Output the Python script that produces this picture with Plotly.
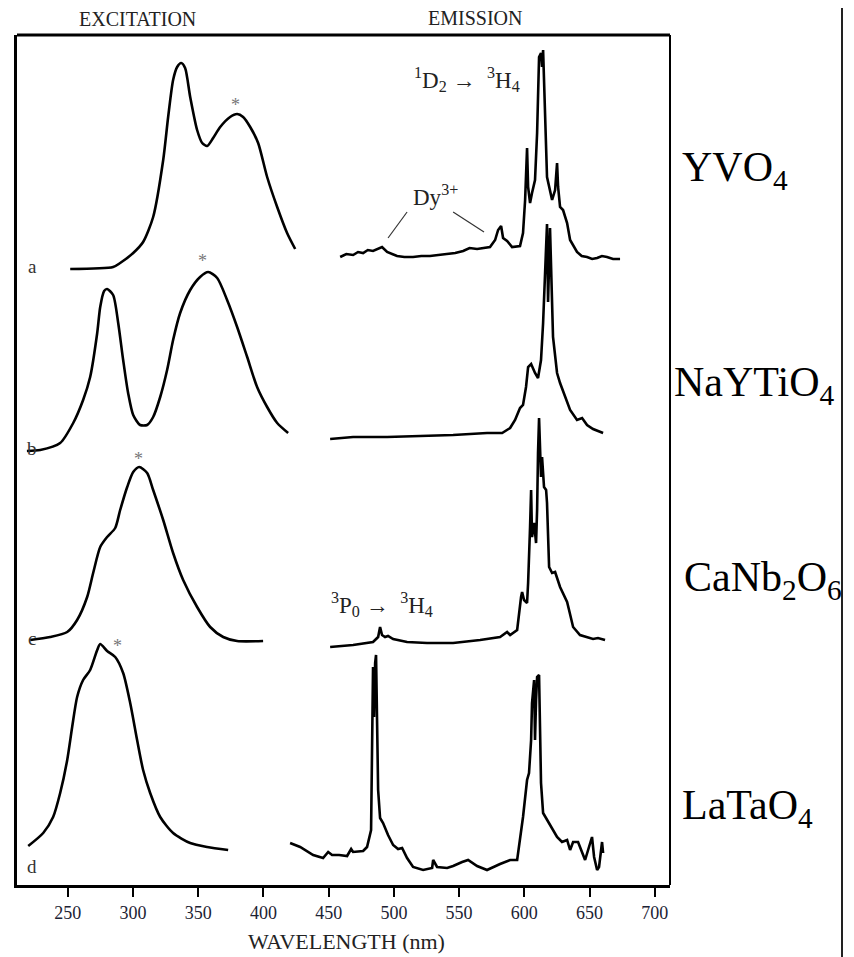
import plotly.graph_objects as go

# ---------------- data (wavelength nm, relative intensity a.u.) ----------------
PANELS = ["a", "b", "c", "d"]
HOSTS = ["YVO<sub>4</sub>", "NaYTiO<sub>4</sub>", "CaNb<sub>2</sub>O<sub>6</sub>", "LaTaO<sub>4</sub>"]
OFFSETS = [615, 433, 243, 15]   # vertical stacking offset of each panel

EXC_A_WL = [251.8, 284.7, 290.1, 300.1, 307.7, 315.4, 323.1, 326.9, 330.7, 333.8, 336.9, 339.9,
            343.8, 349.1, 353.0, 356.8, 361.4, 366.8, 374.4, 379.8, 384.4, 389.8, 395.9, 402.8,
            410.5, 418.1, 424.3]
EXC_A_I = [1, 3, 7, 17, 28, 53, 110, 153, 190, 203, 207, 202, 173, 140, 127, 124, 132, 143, 153,
           156, 153, 143, 127, 93, 63, 37, 21]

EXC_B_WL = [218.6, 228.8, 244.1, 254.1, 261.7, 267.1, 272.5, 274.8, 277.8, 280.1, 284.7, 288.6,
            292.4, 296.2, 300.1, 305.4, 310.8, 315.4, 320.8, 326.1, 330.7, 336.1, 343.8, 351.4,
            357.6, 364.5, 372.1, 379.8, 387.5, 395.1, 402.8, 410.5, 418.9]
EXC_B_I = [1, 2, 9, 29, 52, 75, 119, 145, 161, 163, 157, 129, 92, 59, 37, 27, 27, 35, 55, 82, 112,
           139, 162, 175, 180, 174, 152, 125, 95, 65, 45, 29, 19]

EXC_C_WL = [221.1, 236.4, 249.5, 257.1, 264.8, 269.4, 274.8, 280.1, 286.3, 290.1, 295.5, 300.1,
            304.7, 310.8, 315.4, 323.1, 330.7, 338.4, 349.1, 359.1, 369.1, 379.8, 399.7]
EXC_C_I = [2, 5, 10, 22, 45, 69, 95, 105, 114, 132, 155, 170, 175, 169, 152, 122, 89, 62, 35, 15,
           5, 1, 1]

EXC_D_WL = [219.6, 231.1, 238.7, 244.1, 249.5, 253.3, 257.1, 261.7, 267.1, 272.5, 274.8, 280.1,
            286.3, 292.4, 297.8, 303.1, 307.7, 313.1, 320.8, 330.7, 343.8, 356.8, 372.9]
EXC_D_I = [24, 37, 53, 77, 110, 143, 173, 190, 200, 220, 226, 219, 213, 197, 167, 130, 100, 77, 53,
           37, 27, 23, 20]

EM_A_WL = [458.8, 463.5, 468.7, 472.5, 476.4, 480.0, 484.0, 487.5, 490.9, 494.8, 502.4, 508.0,
           514.7, 521.0, 527.7, 534.0, 540.8, 547.0, 553.1, 558.0, 563.8, 569.0, 573.7, 577.6,
           579.9, 582.2, 583.7, 586.8, 590.6, 596.7, 599.0, 600.6, 602.1, 602.9, 604.4, 605.9,
           608.2, 609.8, 611.3, 612.8, 613.6, 614.4, 615.9, 617.4, 621.3, 623.6, 625.1, 625.9,
           627.4, 629.7, 632.8, 635.1, 640.4, 644.0, 648.1, 652.0, 655.8, 659.5, 663.4, 668.0, 673.4]
EM_A_I = [13, 16, 15, 18, 17, 20, 19, 21, 23, 18, 14, 13, 13, 14, 14, 15, 16, 17, 19, 22, 21, 22,
          23, 30, 40, 44, 32, 29, 23, 24, 37, 70, 122, 83, 67, 77, 90, 137, 213, 217, 203, 220, 153,
          93, 70, 80, 107, 83, 63, 60, 47, 30, 18, 14, 13, 11, 12, 14, 13, 11, 11]

EM_B_WL = [451.1, 468.7, 494.8, 520.1, 545.4, 571.4, 583.0, 589.1, 592.9, 596.7, 599.0, 601.3,
           602.9, 605.2, 608.2, 610.5, 612.8, 614.4, 615.9, 617.4, 618.2, 619.7, 622.0, 625.1,
           627.4, 631.2, 635.1, 640.4, 644.3, 648.1, 652.7, 660.4]
EM_B_I = [13, 15, 15, 16, 17, 19, 19, 24, 32, 44, 47, 65, 85, 88, 79, 74, 92, 129, 172, 228, 150,
          224, 115, 79, 69, 55, 42, 32, 34, 27, 23, 19]

EM_C_WL = [451.1, 468.7, 484.0, 487.9, 489.4, 490.9, 493.2, 495.5, 499.4, 510.1, 525.4, 545.4,
           566.1, 581.4, 586.8, 589.1, 594.5, 596.0, 597.5, 598.3, 599.8, 602.1, 602.9, 604.4,
           605.2, 605.9, 607.5, 609.0, 609.8, 610.5, 611.3, 612.8, 613.6, 615.1, 616.7, 617.4,
           619.0, 621.3, 623.6, 627.4, 632.8, 634.3, 637.4, 642.7, 652.7, 656.5, 661.9]
EM_C_I = [-5, -3, 0, 5, 15, 7, 5, 6, 3, 0, -1, -1, 2, 5, 10, 7, 12, 32, 45, 50, 42, 39, 59, 115,
          152, 105, 119, 99, 132, 189, 224, 165, 185, 155, 152, 139, 75, 69, 70, 55, 40, 32, 15, 7,
          3, 4, 2]

EM_D_WL = [420.4, 428.1, 438.1, 445.7, 449.6, 452.6, 458.0, 464.1, 467.2, 468.7, 476.4, 479.4,
           482.5, 483.3, 484.0, 484.8, 485.6, 486.3, 487.1, 487.9, 489.4, 491.7, 495.5, 499.4,
           503.2, 506.3, 510.1, 514.7, 522.4, 529.3, 530.1, 533.1, 540.8, 545.4, 552.3, 556.9,
           563.8, 571.4, 581.4, 589.1, 594.5, 596.7, 599.0, 602.1, 603.6, 605.2, 605.9, 607.5,
           608.2, 609.0, 609.8, 611.3, 612.1, 612.8, 614.4, 617.4, 621.3, 625.1, 628.9, 632.8,
           635.1, 637.4, 641.2, 644.3, 646.6, 648.9, 651.9, 653.5, 655.8, 657.3, 659.6, 660.4]
EM_D_I = [27, 23, 15, 12, 18, 15, 15, 14, 21, 18, 19, 23, 40, 130, 203, 153, 207, 215, 163, 80, 52,
          47, 35, 25, 21, 22, 12, 3, 0, 2, 10, 3, 2, 4, 8, 10, 4, 0, 6, 10, 10, 30, 53, 90, 97, 130,
          167, 190, 130, 170, 193, 195, 147, 87, 57, 50, 42, 33, 28, 30, 20, 28, 28, 17, 10, 20, 33,
          13, 0, 3, 28, 17]

EXC_WL = [EXC_A_WL, EXC_B_WL, EXC_C_WL, EXC_D_WL]
EXC_I = [EXC_A_I, EXC_B_I, EXC_C_I, EXC_D_I]
EM_WL = [EM_A_WL, EM_B_WL, EM_C_WL, EM_D_WL]
EM_I = [EM_A_I, EM_B_I, EM_C_I, EM_D_I]

# asterisk markers (monitored emission peaks) : wavelength, intensity above baseline
STAR_WL = [378.5, 353.0, 304.0, 288.0]
STAR_I = [165, 191, 183, 224]

TICKS = [250, 300, 350, 400, 450, 500, 550, 600, 650, 700]

# ---------------- figure ----------------
SERIF = "Liberation Serif, Times New Roman, serif"
fig = go.Figure()
for k in range(4):
    off = OFFSETS[k]
    fig.add_trace(go.Scatter(x=EXC_WL[k], y=[v + off for v in EXC_I[k]], mode="lines",
                             line=dict(color="black", width=2.6, shape="spline", smoothing=0.7),
                             showlegend=False, hoverinfo="skip"))
    fig.add_trace(go.Scatter(x=EM_WL[k], y=[v + off for v in EM_I[k]], mode="lines",
                             line=dict(color="black", width=2.6),
                             showlegend=False, hoverinfo="skip"))

annotations = []
for k in range(4):
    annotations.append(dict(x=STAR_WL[k], y=STAR_I[k] + OFFSETS[k], xref="x", yref="y",
                            text="*", showarrow=False, font=dict(family=SERIF, size=18, color="#777"),
                            xanchor="center", yanchor="middle"))
    annotations.append(dict(x=222.6, y=OFFSETS[k] + 4, xref="x", yref="y", text=PANELS[k],
                            showarrow=False, font=dict(family=SERIF, size=19, color="#333"),
                            xanchor="center", yanchor="middle"))

label_y = [715, 500, 305, 77]
label_x = [1.016, 1.003, 1.018, 1.016]
for k in range(4):
    annotations.append(dict(x=label_x[k], y=label_y[k], xref="paper", yref="y", text=HOSTS[k],
                            showarrow=False, xanchor="left", yanchor="middle",
                            font=dict(family=SERIF, size=42, color="black")))

annotations += [
    dict(x=0.184, y=1.0185, xref="paper", yref="paper", text="EXCITATION", showarrow=False,
         font=dict(family=SERIF, size=20, color="#222"), xanchor="center", yanchor="middle"),
    dict(x=0.701, y=1.0195, xref="paper", yref="paper", text="EMISSION", showarrow=False,
         font=dict(family=SERIF, size=20, color="#222"), xanchor="center", yanchor="middle"),
    dict(x=0.504, y=-0.067, xref="paper", yref="paper", text="WAVELENGTH (nm)", showarrow=False,
         font=dict(family=SERIF, size=22, color="#222"), xanchor="center", yanchor="middle"),
    dict(x=555.7, y=806, xref="x", yref="y",
         text="<sup>1</sup>D<sub>2</sub> \u2192  <sup>3</sup>H<sub>4</sub>", showarrow=False,
         font=dict(family=SERIF, size=23, color="#222"), xanchor="center", yanchor="middle"),
    dict(x=531.6, y=690, xref="x", yref="y", text="Dy<sup>3+</sup>", showarrow=False,
         font=dict(family=SERIF, size=23, color="#222"), xanchor="center", yanchor="middle"),
    dict(x=491.0, y=281, xref="x", yref="y",
         text="<sup>3</sup>P<sub>0</sub> \u2192  <sup>3</sup>H<sub>4</sub>", showarrow=False,
         font=dict(family=SERIF, size=23, color="#222"), xanchor="center", yanchor="middle"),
]

shapes = [
    dict(type="line", xref="x", yref="y", x0=510.1, y0=673, x1=495.5, y1=647,
         line=dict(color="#333", width=1.2)),
    dict(type="line", xref="x", yref="y", x0=545.4, y0=673, x1=569.1, y1=653,
         line=dict(color="#333", width=1.2)),
    dict(type="line", xref="paper", yref="paper", x0=1, x1=1, y0=0, y1=1,
         line=dict(color="black", width=2)),
    dict(type="line", xref="paper", yref="paper", x0=1.2634, x1=1.2634, y0=-0.1, y1=1.06,
         line=dict(color="#222", width=2)),
    dict(type="line", xref="paper", yref="paper", x0=0, x1=1, y0=1, y1=1,
         line=dict(color="black", width=3)),
]

# the page body adds an 8 px margin, so the figure is 8 px smaller and margins shifted
fig.update_layout(
    width=846, height=949, autosize=False,
    margin=dict(l=9, r=184, t=27, b=72),
    paper_bgcolor="white", plot_bgcolor="white",
    annotations=annotations, shapes=shapes,
    xaxis=dict(range=[211, 711.7], tickvals=TICKS, ticktext=[str(t) for t in TICKS],
               showgrid=False, zeroline=False, showline=True, linecolor="black", linewidth=3,
               mirror=False, ticks="outside", ticklen=9, tickwidth=2, tickcolor="black",
               tickfont=dict(family=SERIF, size=18, color="#1c2233")),
    yaxis=dict(range=[0, 850], showgrid=False, zeroline=False, showticklabels=False,
               showline=True, linecolor="black", linewidth=3, ticks=""),
)

fig.write_html("out.html")
